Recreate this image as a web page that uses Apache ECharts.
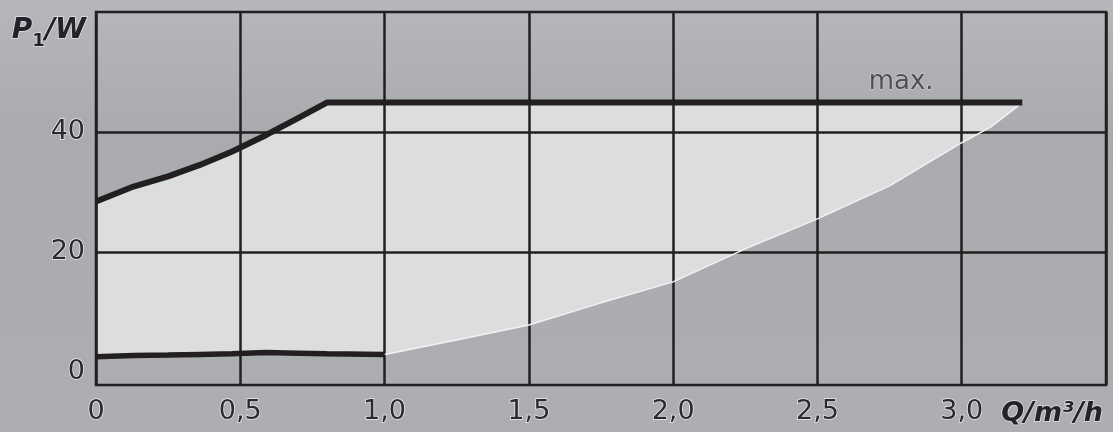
<!DOCTYPE html>
<html lang="de">
  <head>
    <meta charset="UTF-8" />
    <title>P1 / Q</title>
    <script src="https://cdn.jsdelivr.net/npm/echarts@6/dist/echarts.min.js"></script>
    <style>
      body {
        margin: 0;
        padding: 0;
      }

      #main {
        width: 1113px;
        height: 432px;
      }
    </style>
  </head>

  <body>
    <div id="main"></div>
    <script>
      // Q in m³/h, P1 in W
      const flow = [0, 0.13, 0.25, 0.36, 0.47, 0.59, 0.7, 0.8, 1.0, 1.25, 1.5, 1.75, 2.0, 2.25, 2.5, 2.75, 3.0, 3.1, 3.21];
      const powerMax = [28.4, 30.9, 32.6, 34.5, 36.7, 39.5, 42.3, 44.9, 44.9, 44.9, 44.9, 44.9, 44.9, 44.9, 44.9, 44.9, 44.9, 44.9, 44.9];
      const powerLow = [2.5, 2.7, 2.8, 2.9, 3.0, 3.2, 3.1, 3.0, 2.9, 5.3, 7.8, 11.5, 15.0, 20.5, 25.5, 31.0, 38.2, 40.8, 44.9];
      const lowEndIndex = 8; // black min curve stops at Q = 1,0
      const xTicks = [0, 0.5, 1.0, 1.5, 2.0, 2.5, 3.0];
      const yTicks = [0, 20, 40];
      const yGridLines = [20, 40];
      const maxLabelAt = [2.79, 48.3];

      const ink = "#231f20";
      const labelStyle = {
        color: "#2a2a32",
        fontFamily: "DejaVu Sans",
        fontSize: 27,
        textBorderColor: "rgba(255,255,255,0.75)",
        textBorderWidth: 1.5,
      };

      const pts = (ys, from, to) =>
        flow.slice(from, to).map((q, i) => [q, ys[from + i]]);

      const chart = echarts.init(document.getElementById("main"));

      const option = {
        animation: false,
        backgroundColor: {
          type: "linear",
          x: 0,
          y: 0,
          x2: 0,
          y2: 1,
          colorStops: [
            { offset: 0, color: "#b6b7bb" },
            { offset: 0.3, color: "#aaabaf" },
            { offset: 1, color: "#adaeb2" },
          ],
        },
        grid: {
          left: 96,
          right: 7,
          top: 12,
          bottom: 47,
          outerBoundsMode: "none",
          show: true,
          backgroundColor: "transparent",
          borderColor: ink,
          borderWidth: 2.5,
        },
        xAxis: {
          type: "value",
          min: 0,
          max: 3.5,
          interval: 0.5,
          name: "Q/m³/h",
          nameLocation: "end",
          nameGap: -3,
          nameTextStyle: {
            color: "#23232b",
            fontFamily: "DejaVu Sans",
            fontSize: 27,
            fontStyle: "italic",
            fontWeight: "bold",
            align: "right",
            verticalAlign: "top",
            padding: [29, 0, 0, 0],
            textBorderColor: "rgba(255,255,255,0.6)",
            textBorderWidth: 1.5,
          },
          axisLine: { show: false },
          axisTick: { show: false },
          axisLabel: {
            ...labelStyle,
            margin: 13,
            customValues: xTicks,
            formatter: (v) => (v === 0 ? "0" : v.toFixed(1).replace(".", ",")),
          },
          splitLine: { show: true, lineStyle: { color: ink, width: 2.5 } },
        },
        yAxis: {
          type: "value",
          min: -2.2,
          max: 60,
          name: "{p|P}{s|1}{p|/W}",
          nameLocation: "end",
          nameGap: -4,
          nameTextStyle: {
            align: "right",
            verticalAlign: "top",
            padding: [0, 10, 0, 0],
            rich: {
              p: {
                color: "#23232b",
                fontFamily: "DejaVu Sans",
                fontSize: 28,
                fontStyle: "italic",
                fontWeight: "bold",
                lineHeight: 30,
                textBorderColor: "rgba(255,255,255,0.6)",
                textBorderWidth: 1.5,
              },
              s: {
                color: "#23232b",
                fontFamily: "DejaVu Sans",
                fontSize: 18,
                fontWeight: "bold",
                lineHeight: 30,
                padding: [20, 0, 0, 0],
                textBorderColor: "rgba(255,255,255,0.6)",
                textBorderWidth: 1.5,
              },
            },
          },
          axisLine: { show: false },
          axisTick: { show: false, customValues: yGridLines },
          axisLabel: {
            ...labelStyle,
            margin: 11,
            customValues: yTicks,
          },
          splitLine: { show: true, lineStyle: { color: ink, width: 2.5 } },
        },
        series: [
          {
            // operating range between min and max curves
            name: "range",
            type: "custom",
            z: -2,
            encode: { x: 0, y: [1, 2] },
            data: flow.map((q, i) => [q, powerLow[i], powerMax[i]]),
            renderItem: (params, api) => {
              if (params.dataIndex !== 0) return;
              const top = flow.map((q, i) => api.coord([q, powerMax[i]]));
              const bottom = flow
                .map((q, i) => api.coord([q, powerLow[i]]))
                .reverse();
              return {
                type: "polygon",
                shape: { points: top.concat(bottom) },
                style: { fill: "#dcdddf" },
              };
            },
          },
          {
            name: "edge",
            type: "line",
            symbol: "none",
            lineStyle: { color: "#f2f2f2", width: 1.5 },
            data: pts(powerLow, lowEndIndex),
          },
          {
            name: "min",
            type: "line",
            symbol: "none",
            lineStyle: { color: ink, width: 5.5, cap: "butt" },
            data: pts(powerLow, 0, lowEndIndex + 1),
          },
          {
            name: "max",
            type: "line",
            symbol: "none",
            lineStyle: { color: ink, width: 6, cap: "butt", join: "round" },
            data: pts(powerMax, 0),
          },
          {
            name: "maxLabel",
            type: "scatter",
            symbolSize: 0,
            label: {
              show: true,
              position: "inside",
              formatter: "max.",
              color: "#33333a",
              fontFamily: "DejaVu Sans",
              fontSize: 26,
              textBorderColor: "rgba(255,255,255,0.55)",
              textBorderWidth: 1,
            },
            data: [maxLabelAt],
          },
        ],
      };

      chart.setOption(option);
    </script>
  </body>
</html>
